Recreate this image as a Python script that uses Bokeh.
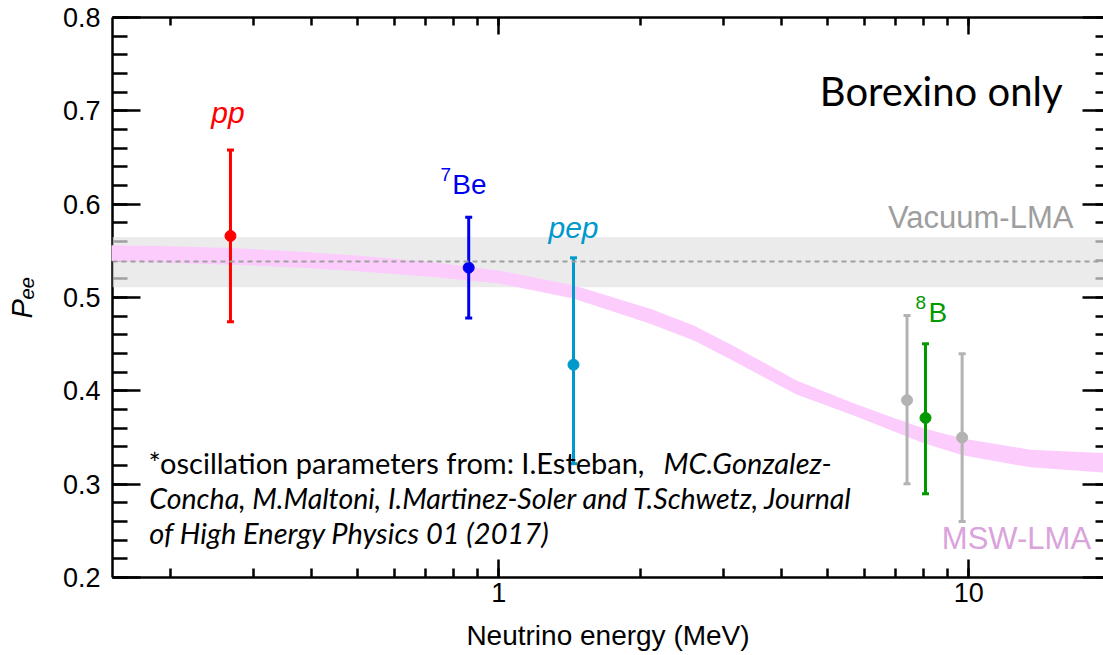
import numpy as np
from bokeh.plotting import figure
from bokeh.models import (Range1d, LogAxis, LinearAxis, LogTicker, SingleIntervalTicker,
                          CustomJSTickFormatter, BoxAnnotation, Span, Label)
from bokeh.embed import file_html
from bokeh.resources import INLINE

# ---------------- data ----------------
# MSW-LMA prediction band
msw_energy = [0.15, 0.2, 0.27, 0.38, 0.5, 0.72, 1.0, 1.44, 2.1, 2.6, 3.16, 4.3, 5.6, 6.5, 8.0, 9.7, 13.5, 20.0]
msw_upper = [0.556, 0.555, 0.553, 0.549, 0.545, 0.538, 0.529, 0.513, 0.488, 0.470, 0.448, 0.411, 0.388, 0.376, 0.360, 0.349, 0.337, 0.333]
msw_lower = [0.539, 0.537, 0.535, 0.532, 0.528, 0.522, 0.515, 0.499, 0.472, 0.454, 0.432, 0.396, 0.375, 0.362, 0.344, 0.331, 0.318, 0.312]

# Vacuum-LMA band
vac_low = 0.511
vac_high = 0.5648
vac_mid = 0.5386

# Borexino measurements
src_names = ["8B (grey, low)", "8B (grey, high)", "pp", "7Be", "pep", "8B"]
src_energy = [7.39, 9.68, 0.2686, 0.863, 1.442, 8.09]
src_pee = [0.390, 0.350, 0.566, 0.532, 0.428, 0.371]
src_pee_hi = [0.4807, 0.4397, 0.658, 0.586, 0.5425, 0.4504]
src_pee_lo = [0.3004, 0.260, 0.474, 0.478, 0.322, 0.2897]
src_colors = ["#b3b3b3", "#b3b3b3", "#ff0000", "#0000ee", "#0099cc", "#009900"]

FONT = "Liberation Sans"
FOOT = "Lato"

p = figure(width=1103, height=655, x_axis_type="log",
           x_range=Range1d(0.1507, 19.35), y_range=Range1d(0.2, 0.8),
           output_backend="svg", toolbar_location=None,
           min_border_left=112, min_border_right=0, min_border_top=17, min_border_bottom=78)
p.grid.visible = False
p.outline_line_color = None
p.background_fill_color = "white"
p.border_fill_color = "white"

# bottom axis
xa = p.xaxis[0]
xa.ticker = LogTicker(num_minor_ticks=10)
xa.formatter = CustomJSTickFormatter(code="return tick.toString()")
xa.axis_line_width = 2.5
xa.major_tick_line_width = 2.5
xa.minor_tick_line_width = 2.5
xa.major_tick_in = 18
xa.major_tick_out = 0
xa.minor_tick_in = 9
xa.minor_tick_out = 0
xa.major_label_text_font = FONT
xa.major_label_text_font_size = "27px"
xa.major_label_text_color = "black"
xa.major_label_standoff = 5
xa.axis_label = "Neutrino energy (MeV)"
xa.axis_label_text_font = FONT
xa.axis_label_text_font_size = "28px"
xa.axis_label_text_font_style = "normal"
xa.axis_label_text_color = "black"
xa.axis_label_standoff = 15

# left axis
ya = p.yaxis[0]
ya.ticker = SingleIntervalTicker(interval=0.1, num_minor_ticks=5)
ya.axis_line_width = 2.5
ya.major_tick_line_width = 2.5
ya.minor_tick_line_width = 2.5
ya.major_tick_in = 28
ya.major_tick_out = 0
ya.minor_tick_in = 15
ya.minor_tick_out = 0
ya.major_label_text_font = FONT
ya.major_label_text_font_size = "27px"
ya.major_label_text_color = "black"
ya.major_label_standoff = 12
ya.axis_label = "P\u2091\u2091"
ya.axis_label_text_font = FONT
ya.axis_label_text_font_size = "29px"
ya.axis_label_text_font_style = "italic"
ya.axis_label_text_color = "black"
ya.axis_label_standoff = 22

blank = CustomJSTickFormatter(code="return ''")

# top axis
ta = LogAxis(ticker=LogTicker(num_minor_ticks=10), formatter=blank, axis_line_width=2.5,
             major_tick_line_width=2.5, minor_tick_line_width=2.5,
             major_tick_in=17, major_tick_out=0, minor_tick_in=8, minor_tick_out=0,
             major_label_text_font_size="2px", major_label_text_color=None, major_label_standoff=0)
p.add_layout(ta, "above")

# right axis (spine lies just outside the picture)
ra = LinearAxis(ticker=SingleIntervalTicker(interval=0.1, num_minor_ticks=5), formatter=blank,
                axis_line_alpha=0.0, major_tick_line_width=2.5, minor_tick_line_width=2.5,
                major_tick_in=21, major_tick_out=0, minor_tick_in=8, minor_tick_out=0,
                major_label_text_font_size="2px", major_label_text_color=None, major_label_standoff=0)
p.add_layout(ra, "right")

# vacuum band (semi-transparent over the axes ticks)
p.add_layout(BoxAnnotation(bottom=vac_low, top=vac_high, fill_color="#e3e3e3", fill_alpha=0.706,
                           line_color=None, level="annotation"))

# MSW band
p.varea(x=msw_energy, y1=msw_lower, y2=msw_upper, fill_color="#fccdfc", level="overlay")

# vacuum line
p.add_layout(Span(location=vac_mid, dimension="width", line_color="#a0a0a0", line_width=2,
                  line_dash="5 4", level="overlay"))

# error bars
p.segment(x0=src_energy, y0=src_pee_lo, x1=src_energy, y1=src_pee_hi,
          line_color=src_colors, line_width=3, level="overlay")
p.scatter(x=src_energy + src_energy, y=src_pee_lo + src_pee_hi, marker="dash", size=7,
          line_color=src_colors + src_colors, line_width=3, level="overlay")
p.scatter(x=src_energy, y=src_pee, size=11, fill_color=src_colors, line_color=src_colors,
          level="overlay")


def lab(x, y, text, color="black", size="30px", font=FONT, style="normal", align="left"):
    p.add_layout(Label(x=x, y=y, text=text, text_color=color, text_font_size=size,
                       text_font=font, text_font_style=style, text_align=align,
                       text_baseline="alphabetic", level="overlay"))


lab(0.2654, 0.698, "pp", "#ff0000", "30px", style="italic", align="center")
lab(0.7515, 0.632, "7", "#0000ee", "19px")
lab(0.796, 0.621, "Be", "#0000ee", "28px")
lab(1.442, 0.5746, "pep", "#0099cc", "30px", style="italic", align="center")
lab(7.70, 0.4943, "8", "#009900", "19px")
lab(8.213, 0.4835, "B", "#009900", "28px")
lab(16.70, 0.5861, "Vacuum-LMA", "#9e9e9e", "31px", align="right")
lab(18.21, 0.2414, "MSW-LMA", "#dba3dc", "31px", align="right")
lab(15.83, 0.7213, "Borexino only", "black", "40px", font=FOOT, align="right")

# footnote
lab(0.1798, 0.3228, "*oscillation parameters from: I.Esteban, ", "black", "29px", font=FOOT)
lab(2.241, 0.3228, "MC.Gonzalez-", "black", "29px", font=FOOT, style="italic")
lab(0.1805, 0.2850, "Concha, M.Maltoni, I.Martinez-Soler and T.Schwetz, Journal", "black", "28.5px",
    font=FOOT, style="italic")
lab(0.1805, 0.2478, "of High Energy Physics 01 (2017)", "black", "29px", font=FOOT, style="italic")

open("out.html", "w").write(file_html(p, INLINE))
